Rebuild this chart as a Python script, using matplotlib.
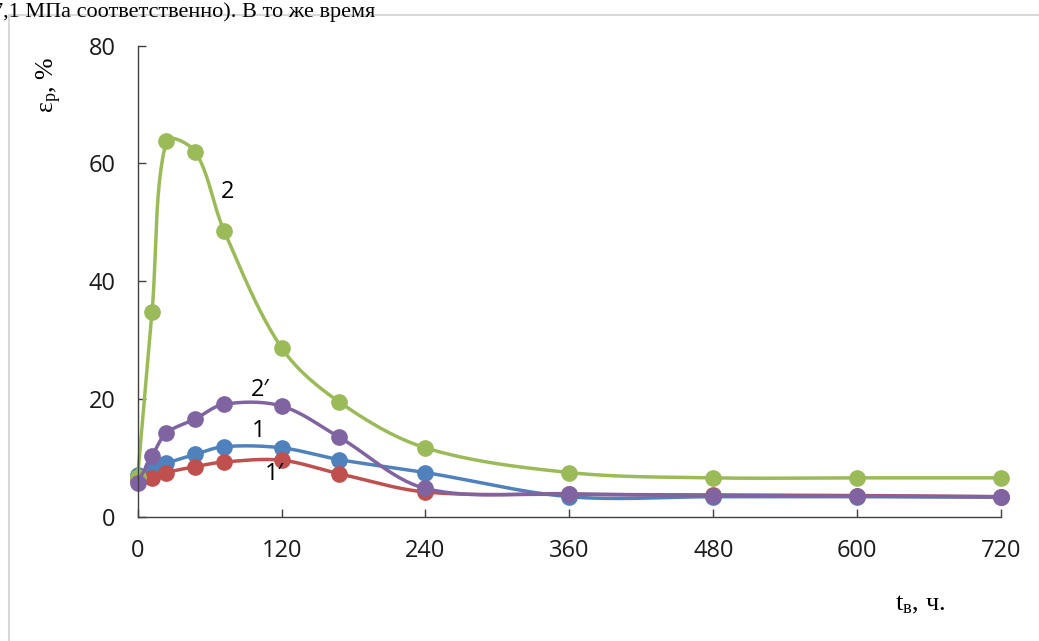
import numpy as np
import matplotlib.pyplot as plt
from matplotlib.lines import Line2D

# time, h
t = [0, 12, 24, 48, 72, 120, 168, 240, 360, 480, 600, 720]

# relative elongation, %
eps_1 = [7.0, 8.4, 9.1, 10.6, 11.9, 11.7, 9.7, 7.5, 3.4, 3.4, 3.4, 3.3]
eps_1p = [6.2, 6.6, 7.5, 8.5, 9.3, 9.6, 7.3, 4.2, 3.8, 3.7, 3.6, 3.4]
eps_2 = [6.8, 34.8, 63.8, 62.0, 48.6, 28.7, 19.5, 11.7, 7.5, 6.6, 6.6, 6.6]
eps_2p = [5.8, 10.3, 14.2, 16.6, 19.1, 18.8, 13.5, 4.8, 3.9, 3.6, 3.5, 3.4]

x_ticks = [0, 120, 240, 360, 480, 600, 720]
y_ticks = [0, 20, 40, 60, 80]


def smooth(ax, x, y, n=40):
    # excel-like smoothed line, computed in screen space
    p = ax.transData.transform(np.column_stack([x, y]))
    p = np.vstack([p[0], p, p[-1]])
    out = []
    s = np.linspace(0, 1, n)[:, None]
    for i in range(1, len(p) - 2):
        p0, p1, p2, p3 = p[i - 1], p[i], p[i + 1], p[i + 2]
        d01 = np.hypot(*(p1 - p0))
        d12 = np.hypot(*(p2 - p1))
        d23 = np.hypot(*(p3 - p2))
        f1 = d12 / (d01 + d12) / 3 if d01 + d12 > 0 else 0
        f2 = d12 / (d12 + d23) / 3 if d12 + d23 > 0 else 0
        c1 = p1 + (p2 - p0) * f1
        c2 = p2 - (p3 - p1) * f2
        seg = ((1 - s) ** 3) * p1 + 3 * ((1 - s) ** 2) * s * c1 + 3 * (1 - s) * s ** 2 * c2 + s ** 3 * p2
        out.append(seg)
    out = ax.transData.inverted().transform(np.vstack(out))
    return out[:, 0], out[:, 1]


plt.rcParams['font.family'] = ['Open Sans', 'DejaVu Sans']
plt.rcParams['mathtext.fontset'] = 'custom'
plt.rcParams['mathtext.rm'] = 'Liberation Serif'
plt.rcParams['mathtext.it'] = 'Liberation Serif'

fig = plt.figure(figsize=(10.39, 6.41), dpi=100)
ax = fig.add_axes([0.1325, 0.1939, 0.8310, 0.7348])
ax.set_xlim(0, 720)
ax.set_ylim(0, 80)

series = [
    (eps_1, '#4F81BD'),
    (eps_1p, '#C0504D'),
    (eps_2, '#9BBB59'),
    (eps_2p, '#8064A2'),
]
for vals, col in series:
    xs, ys = smooth(ax, t, vals)
    ax.plot(xs, ys, color=col, linewidth=2.5, solid_capstyle='round', clip_on=False)
    ax.plot(t, vals, linestyle='none', marker='o', markersize=11, color=col, clip_on=False)

ax.set_xticks(x_ticks)
ax.set_yticks(y_ticks)
for s in ['top', 'right']:
    ax.spines[s].set_visible(False)
for s in ['left', 'bottom']:
    ax.spines[s].set_color('#404040')
    ax.spines[s].set_linewidth(1.0)
ax.tick_params(direction='in', length=6, width=1.0, color='#404040', labelsize=17, labelcolor='#1a1a1a')
ax.tick_params(axis='x', pad=16)
ax.tick_params(axis='y', pad=16)

# curve labels
ax.text(75, 55.2, '2', fontsize=17, ha='center', va='center')
ax.text(102, 21.5, '2′', fontsize=17, ha='center', va='center')
ax.text(101, 14.6, '1', fontsize=17, ha='center', va='center')
ax.text(114, 7.2, '1′', fontsize=17, ha='center', va='center')

fig.text(49 / 1039, 1 - 85 / 641, r'$\mathrm{\varepsilon_{р}}$, %', rotation=90,
         ha='center', va='center', fontsize=18.5, family='Liberation Serif')
fig.text(920 / 1039, 1 - 605 / 641, r'$\mathrm{t_{в}}$, ч.', ha='center', va='center',
         fontsize=19, family='Liberation Serif')

# page text cut at top and frame of the chart
fig.text(-8 / 1039, 1 - 17 / 641, '7,1 МПа соответственно). В то же время',
         ha='left', va='baseline', fontsize=16, family='Liberation Serif')
fig.add_artist(Line2D([9 / 1039, 9 / 1039], [0, 1 - 15 / 641], transform=fig.transFigure,
                      color='#D9D9D9', linewidth=1.5))
fig.add_artist(Line2D([9 / 1039, 1.0], [1 - 15 / 641, 1 - 15 / 641], transform=fig.transFigure,
                      color='#D9D9D9', linewidth=1.5))

plt.savefig('out.png', dpi=100)
